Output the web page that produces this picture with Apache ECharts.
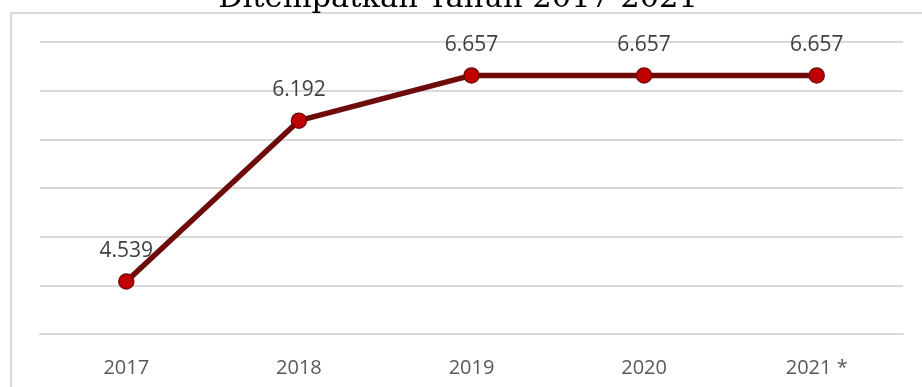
<!DOCTYPE html>
<html>
<head>
<meta charset="utf-8">
<script src="https://cdn.jsdelivr.net/npm/echarts@6/dist/echarts.min.js"></script>
<style>
  html, body { margin: 0; padding: 0; background: #ffffff; }
  #chart { width: 922px; height: 387px; }
</style>
</head>
<body>
<div id="chart"></div>
<script>
// Years on the horizontal axis
const years = ['2017', '2018', '2019', '2020', '2021 *'];
// Number placed per year
const placed = [4.539, 6.192, 6.657, 6.657, 6.657];
// Value axis range (labels hidden, gridlines only)
const yMin = 4;
const yMax = 7;
const yStep = 0.5;
const titleText = 'Ditempatkan Tahun 2017-2021';

const chart = echarts.init(document.getElementById('chart'), null, { renderer: 'canvas' });

chart.setOption({
  animation: false,
  backgroundColor: '#ffffff',
  graphic: [
    {
      type: 'rect',
      shape: { x: 11, y: 13, width: 1000, height: 500 },
      style: { fill: 'none', stroke: '#d9d9d9', lineWidth: 2 },
      silent: true
    },
    {
      type: 'text',
      x: 458,
      y: 15,
      style: {
        text: titleText,
        fill: '#000000',
        font: '30.5px "DejaVu Serif"',
        align: 'center',
        verticalAlign: 'bottom'
      },
      silent: true
    }
  ],
  grid: { left: 40, right: 19, top: 42, bottom: 53 },
  xAxis: {
    type: 'category',
    data: years,
    boundaryGap: true,
    axisLine: { show: true, lineStyle: { color: '#d9d9d9', width: 2 } },
    axisTick: { show: false },
    axisLabel: {
      color: '#595959',
      fontSize: 20,
      fontFamily: '"Open Sans", "Noto Sans", sans-serif',
      margin: 24
    }
  },
  yAxis: {
    type: 'value',
    min: yMin,
    max: yMax,
    interval: yStep,
    axisLine: { show: false },
    axisTick: { show: false },
    axisLabel: { show: false },
    splitLine: { show: true, lineStyle: { color: '#d9d9d9', width: 2 } }
  },
  series: [
    {
      type: 'line',
      data: placed,
      symbol: 'circle',
      symbolSize: 15,
      lineStyle: { color: '#6e0c0c', width: 5.5 },
      itemStyle: { color: '#c00000', borderColor: '#7a0a0a', borderWidth: 1.5 },
      label: {
        show: true,
        position: 'top',
        distance: 12,
        color: '#404040',
        fontSize: 21,
        fontFamily: '"Open Sans", "Noto Sans", sans-serif',
        formatter: (p) => p.value.toFixed(3)
      },
      z: 3
    }
  ]
});
</script>
</body>
</html>
